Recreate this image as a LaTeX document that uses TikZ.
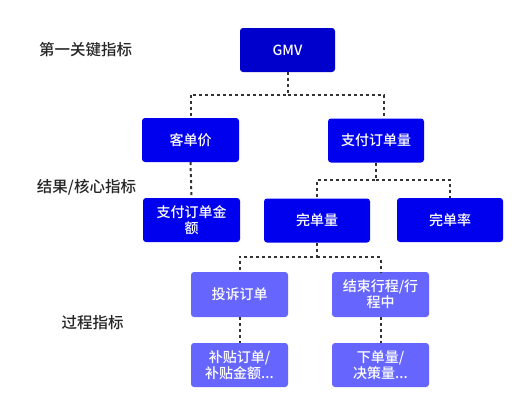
\documentclass[tikz,border=0pt]{standalone}
\usepackage{fontspec}
\setmainfont{Noto Sans CJK SC}[UprightFont=* Medium]
\definecolor{topblue}{HTML}{0000CC}
\definecolor{midblue}{HTML}{0000EE}
\definecolor{lowblue}{HTML}{6666FF}
\definecolor{linegray}{HTML}{333333}
\begin{document}
\begin{tikzpicture}[x=1pt,y=-1pt,
  box/.style={rounded corners=3pt, text=white, inner sep=0pt, align=center,
    font=\fontsize{14}{16}\selectfont, minimum height=44pt},
  topbox/.style={box, fill=topblue},
  midbox/.style={box, fill=midblue},
  lowbox/.style={box, fill=lowblue},
  levellabel/.style={font=\fontsize{15.5}{18}\selectfont, text=black!85, inner sep=0pt},
  conn/.style={draw=linegray, line width=2pt, dash pattern=on 3pt off 3pt}]
\useasboundingbox (0,0) rectangle (528,413);
\fill[white] (0,0) rectangle (528,413);
% level labels
\node[levellabel] (l1) at (85.5,50) {第一关键指标};
\node[levellabel] (l2) at (86.5,187) {结果/核心指标};
\node[levellabel] (l3) at (92.5,323) {过程指标};
% boxes
\node[topbox, minimum width=95pt] (gmv) at (287.5,50) {GMV};
\node[midbox, minimum width=97pt] (kdj) at (190.5,140) {客单价};
\node[midbox, minimum width=96pt] (zfdl) at (376,140.5) {支付订单量};
\node[midbox, minimum width=97pt] (zfje) at (191.5,220) {支付订单金\\额};
\node[midbox, minimum width=106pt] (wdl) at (317,220.5) {完单量};
\node[midbox, minimum width=106pt] (wdlv) at (450,220) {完单率};
\node[lowbox, minimum width=97pt, minimum height=45pt] (ts) at (239.5,294.5) {投诉订单};
\node[lowbox, minimum width=97pt, minimum height=45pt] (js) at (380.5,294.5) {结束行程/行\\程中};
\node[lowbox, minimum width=97pt] (bt) at (239.5,365) {补贴订单/\\补贴金额...};
\node[lowbox, minimum width=97pt] (xd) at (380.5,365) {下单量/\\决策量...};
% junctions
\coordinate (j1) at (287.5,95);
\coordinate (j2) at (376,180);
\coordinate (j3) at (317,257);
% connectors
\draw[conn] (gmv.south) -- (j1) -| (kdj.north);
\draw[conn] (j1) -| ([xshift=8pt]zfdl.north);
\draw[conn] (kdj.south) -- (zfje.north);
\draw[conn] (zfdl.south) -- (j2) -| (wdl.north);
\draw[conn] (j2) -| (wdlv.north);
\draw[conn] (wdl.south) -- (j3) -| (ts.north);
\draw[conn] (j3) -| (js.north);
\draw[conn] (ts.south) -- (bt.north);
\draw[conn] (js.south) -- (xd.north);
\end{tikzpicture}
\end{document}
